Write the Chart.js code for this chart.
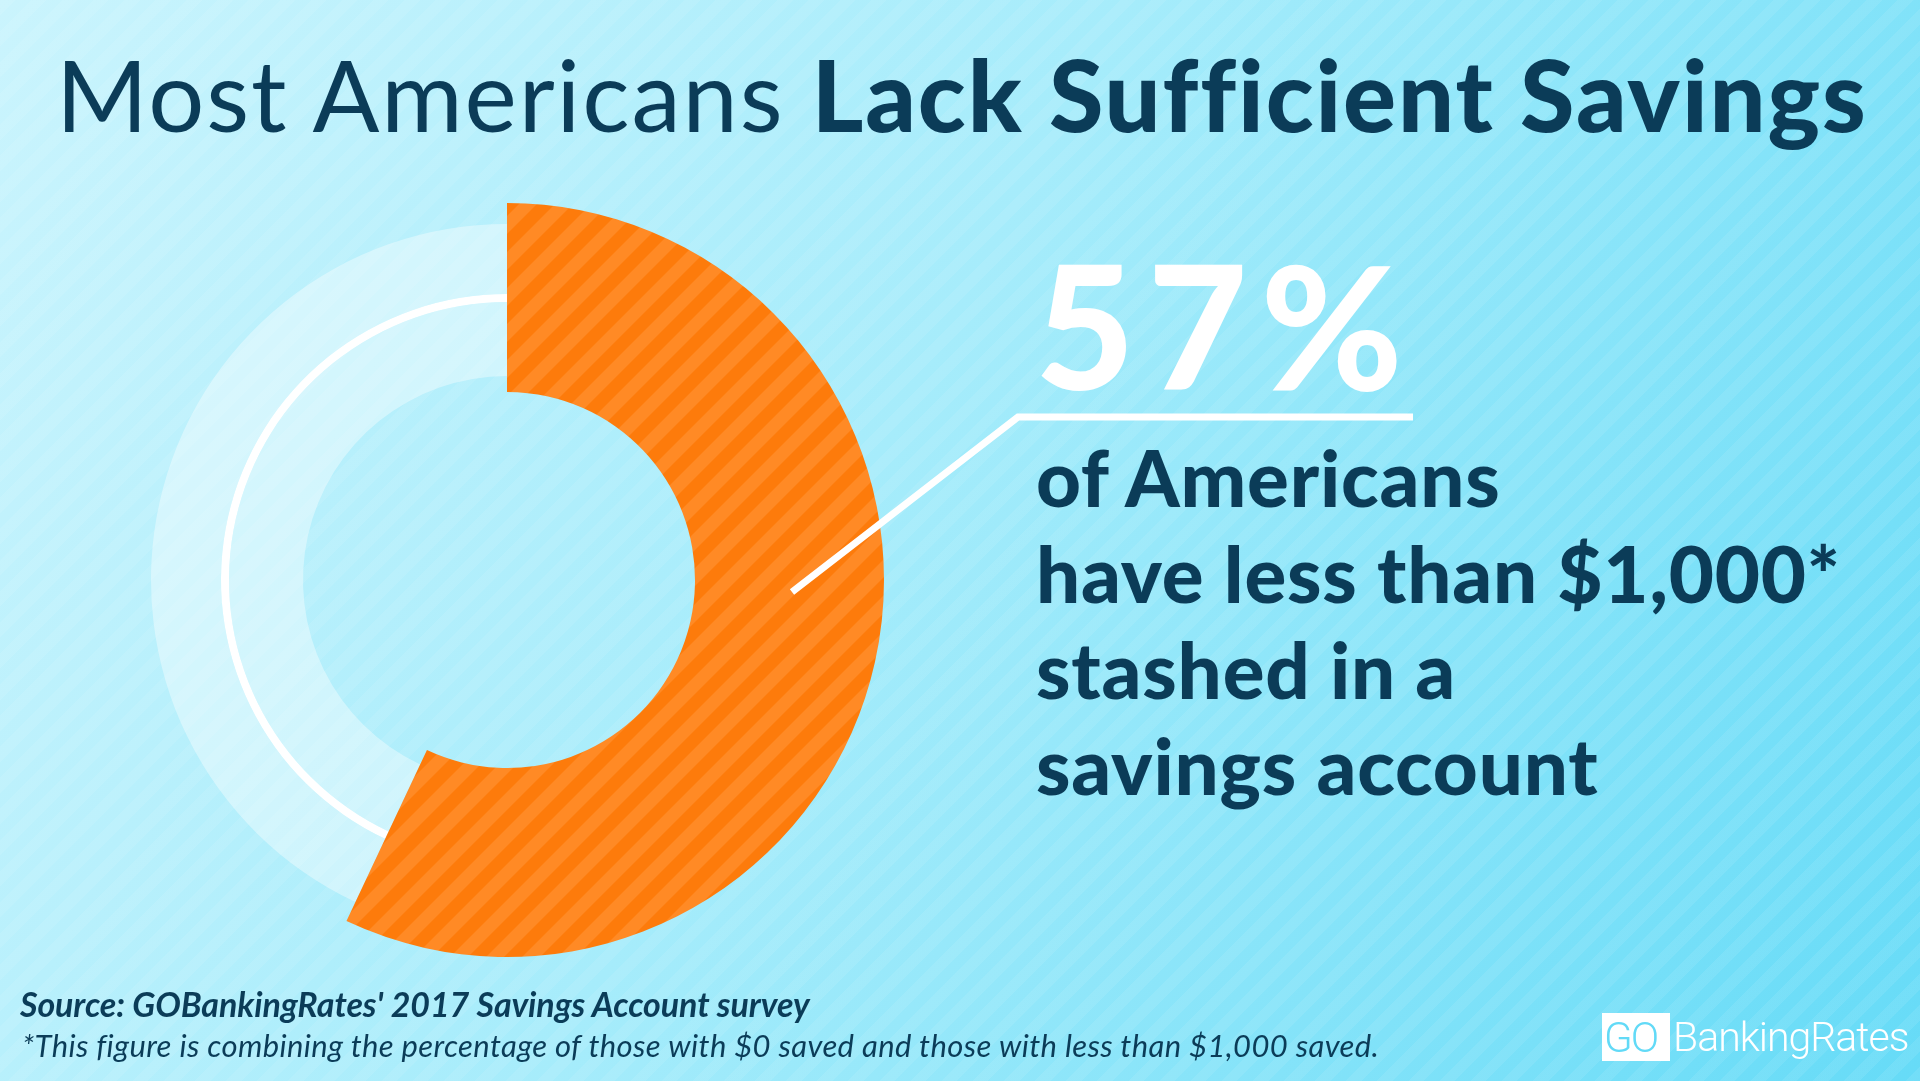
<!DOCTYPE html>
<html lang="en">
<head>
<meta charset="UTF-8">
<title>Most Americans Lack Sufficient Savings</title>
<script src="https://cdn.jsdelivr.net/npm/chart.js"></script>
<style>
  html, body { margin: 0; padding: 0; }
  body {
    width: 1920px; height: 1081px; overflow: hidden; position: relative;
    font-family: Lato, sans-serif;
    background:
      repeating-linear-gradient(135deg, rgba(255,255,255,0.08) 0px, rgba(255,255,255,0.08) 11px, rgba(255,255,255,0) 11px, rgba(255,255,255,0) 22px),
      linear-gradient(118deg, #caf4fd 0%, #a6ecfb 45%, #66dbf7 100%);
  }
  .t { position: absolute; white-space: nowrap; color: #0b3c58; line-height: 1; }
  #title { left: 56px; top: 44px; font-size: 99px; font-weight: 400; letter-spacing: 1.9px; }
  #title b { font-weight: 900; }
  #big { left: 1035px; top: 238px; font-size: 172px; font-weight: 900; color: #fff; letter-spacing: 13px; }
  #body { left: 1036px; top: 429px; font-size: 78px; font-weight: 900; line-height: 96px; letter-spacing: 0.8px; }
  #src { left: 20px; top: 987px; font-size: 34px; font-weight: 700; font-style: italic; letter-spacing: -0.1px; }
  #note { left: 22px; top: 1030px; font-size: 31px; font-weight: 400; font-style: italic; letter-spacing: 0.36px; }
  #logoBox { position: absolute; left: 1602px; top: 1013px; width: 68px; height: 48px; background: #fff; }
  #logoGo { left: 1604px; top: 1017px; font-family: Roboto, sans-serif; font-weight: 300; font-size: 42px; color: #62daf7; letter-spacing: -2px; }
  #logoName { left: 1673px; top: 1017px; font-family: Roboto, sans-serif; font-weight: 300; font-size: 41px; color: #fff; letter-spacing: -1px; }
  .chartBox { position: absolute; left: 127px; top: 200px; width: 760px; height: 760px; }
  #leader { position: absolute; left: 0; top: 0; }
</style>
</head>
<body>

<div class="t" id="title">Most Americans <b>Lack Sufficient Savings</b></div>

<div class="chartBox"><canvas id="ringChart" width="760" height="760"></canvas></div>
<div class="chartBox"><canvas id="savingsChart" width="760" height="760"></canvas></div>

<svg id="leader" width="1920" height="1081">
  <polyline points="792,592 1018,417 1413,417" fill="none" stroke="#fff" stroke-width="7" stroke-linejoin="miter"/>
</svg>

<div class="t" id="big">57%</div>
<div class="t" id="body">of Americans<br>have less than $1,000*<br>stashed in a<br>savings account</div>

<div class="t" id="src">Source: GOBankingRates' 2017 Savings Account survey</div>
<div class="t" id="note">*This figure is combining the percentage of those with $0 saved and those with less than $1,000 saved.</div>

<div id="logoBox"></div>
<div class="t" id="logoGo">GO</div>
<div class="t" id="logoName">BankingRates</div>

<script>
    // data
    var categories = ['Less than $1,000 saved', 'Everyone else'];
    var shareValues = [57, 43];

    // pale track behind the 43% part: outer band, thin white line, inner band
    var trackWeights = [70, 8, 74];
    var trackFills = ['rgba(255,255,255,0.38)', '#ffffff', 'rgba(255,255,255,0.38)'];

    function stripes(base, light, size) {
        var c = document.createElement('canvas');
        c.width = c.height = size;
        var g = c.getContext('2d');
        g.fillStyle = base;
        g.fillRect(0, 0, size, size);
        g.fillStyle = light;
        var w = size / 2;
        for (var k = -1; k <= 1; k++) {
            g.beginPath();
            g.moveTo(k * size, size);
            g.lineTo(k * size + w, size);
            g.lineTo(k * size + size + w, 0);
            g.lineTo(k * size + size, 0);
            g.closePath();
            g.fill();
        }
        return g.createPattern(c, 'repeat');
    }

    var orange = stripes('#fd7b0b', '#ff8a25', 36);

    var baseOptions = {
        responsive: false,
        animation: false,
        events: [],
        layout: { padding: 0 },
        plugins: {
            legend: { display: false },
            tooltip: { enabled: false }
        }
    };

    var ringChart = new Chart(document.getElementById('ringChart').getContext('2d'), {
        type: 'doughnut',
        data: {
            labels: categories,
            datasets: trackWeights.map(function (w, i) {
                return {
                    data: shareValues,
                    weight: w,
                    backgroundColor: ['rgba(255,255,255,0)', trackFills[i]],
                    borderWidth: 0
                };
            })
        },
        options: Object.assign({}, baseOptions, { radius: 356, cutout: '57.3%' })
    });

    var savingsChart = new Chart(document.getElementById('savingsChart').getContext('2d'), {
        type: 'doughnut',
        data: {
            labels: categories,
            datasets: [{
                label: 'Share of Americans',
                data: shareValues,
                backgroundColor: [orange, 'rgba(255,255,255,0)'],
                borderWidth: 0
            }]
        },
        options: Object.assign({}, baseOptions, { radius: 377, cutout: '49.87%' })
    });
</script>

</body>
</html>
